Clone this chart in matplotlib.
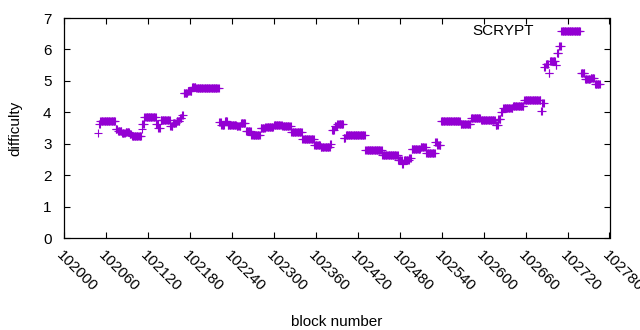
import numpy as np
import matplotlib
matplotlib.use("Agg")
import matplotlib.pyplot as plt

plt.rcParams['font.family'] = ['Liberation Sans', 'DejaVu Sans']

# Difficulty runs: (first block, last block, difficulty)
run_start = [102049, 102050, 102052, 102074, 102077, 102083, 102088, 102094, 102097, 102111,
             102112, 102115, 102132, 102135, 102138, 102152, 102156, 102161, 102166, 102169,
             102171, 102177, 102183, 102189, 102222, 102225, 102230, 102234, 102247, 102253,
             102260, 102268, 102281, 102288, 102300, 102312, 102325, 102341, 102358, 102367,
             102381, 102383, 102387, 102391, 102400, 102403, 102431, 102455, 102478, 102484,
             102486, 102494, 102497, 102510, 102518, 102531, 102534, 102539, 102567, 102582,
             102596, 102617, 102621, 102625, 102628, 102642, 102658, 102682, 102684, 102687,
             102689, 102693, 102695, 102703, 102705, 102708, 102711, 102739, 102745, 102753,
             102759]
run_end = [102049, 102051, 102073, 102076, 102082, 102087, 102093, 102096, 102110, 102111,
           102114, 102131, 102134, 102137, 102151, 102155, 102160, 102165, 102168, 102170,
           102176, 102182, 102188, 102221, 102224, 102229, 102233, 102246, 102252, 102259,
           102267, 102280, 102287, 102299, 102311, 102324, 102340, 102357, 102366, 102380,
           102382, 102386, 102390, 102399, 102402, 102430, 102454, 102477, 102483, 102485,
           102493, 102496, 102509, 102517, 102530, 102533, 102538, 102566, 102581, 102595,
           102616, 102620, 102624, 102627, 102641, 102657, 102681, 102683, 102686, 102688,
           102692, 102694, 102702, 102704, 102707, 102710, 102738, 102744, 102752, 102758,
           102766]
run_value = [3.35, 3.62, 3.72, 3.46, 3.40, 3.35, 3.38, 3.30, 3.25, 3.48,
             3.62, 3.85, 3.63, 3.50, 3.77, 3.55, 3.65, 3.73, 3.82, 3.90,
             4.60, 4.68, 4.80, 4.77, 3.70, 3.60, 3.73, 3.60, 3.56, 3.65,
             3.40, 3.28, 3.50, 3.54, 3.60, 3.56, 3.38, 3.14, 2.95, 2.88,
             3.00, 3.45, 3.55, 3.62, 3.18, 3.28, 2.80, 2.64, 2.48, 2.34,
             2.48, 2.55, 2.82, 2.90, 2.72, 3.06, 2.96, 3.72, 3.62, 3.82,
             3.76, 3.60, 3.80, 4.00, 4.13, 4.20, 4.40, 4.05, 4.28, 5.45,
             5.55, 5.26, 5.62, 5.50, 5.90, 6.10, 6.58, 5.25, 5.05, 5.10,
             4.90]

xticks = list(range(102000, 102781, 60))
yticks = list(range(0, 8))

blocks = []
diffs = []
for s, e, v in zip(run_start, run_end, run_value):
    for b in range(s, e + 1):
        blocks.append(b)
        diffs.append(v)

color = '#9400D3'
fs = 11
fig = plt.figure(figsize=(6.4, 3.3), dpi=100)
ax = fig.add_axes([64/640, 1-238/330, (609.5-64)/640, (238-18)/330])
ax.plot(blocks, diffs, linestyle='none', marker='+', markersize=5.5,
        markeredgewidth=0.8, color=color, clip_on=False)
ax.set_xlim(102000, 102780)
ax.set_ylim(0, 7)
ax.set_xticks(xticks)
ax.set_yticks(yticks)
ax.set_xticklabels([str(t) for t in xticks], rotation=-45, ha='left', va='top',
                   rotation_mode='anchor', fontsize=fs)
ax.set_yticklabels([str(t) for t in yticks], fontsize=fs)
ax.tick_params(axis='x', direction='in', top=True, length=4, width=0.8, pad=7)
ax.tick_params(axis='y', direction='in', right=True, length=4, width=0.8, pad=9)
for sp in ax.spines.values():
    sp.set_linewidth(0.9)
ax.set_xlabel('block number', fontsize=fs)
ax.set_ylabel('difficulty', fontsize=fs)
ax.xaxis.set_label_coords(0.5, -0.35)
ax.yaxis.set_label_coords(-0.077, 0.5)

# key
fig.text(534/640, 1-31/330, 'SCRYPT', ha='right', va='center', fontsize=fs)

fig.savefig('out.png', dpi=100)
